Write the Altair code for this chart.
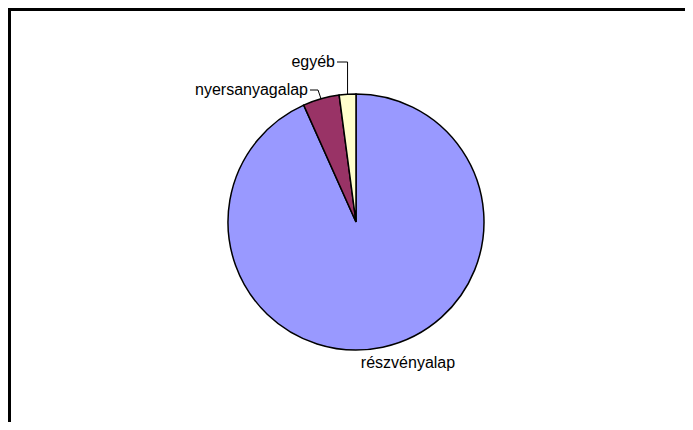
import math
import altair as alt
import pandas as pd

categories = ["részvényalap", "nyersanyagalap", "egyéb"]
values = [93.3, 4.6, 2.1]
colors = ["#9999FF", "#993366", "#FFFFCC"]

W, H = 677, 414
CX, CY, R = 348, 214, 128

df = pd.DataFrame({"cat": categories, "val": values, "ord": [0, 1, 2]})

pie = alt.Chart(df).mark_arc(radius=R, stroke="black", strokeWidth=1.5).encode(
    theta=alt.Theta("val:Q", stack=True),
    color=alt.Color("cat:N", scale=alt.Scale(domain=categories, range=colors), legend=None),
    order=alt.Order("ord:Q"),
    x=alt.value(CX),
    y=alt.value(CY),
)

# slice mid-angles from the data
total = sum(values)
cum = 0
edge = {}
for c, v in zip(categories, values):
    mid = (cum + v / 2) / total * 2 * math.pi
    edge[c] = (CX + R * math.sin(mid), CY - R * math.cos(mid))
    cum += v

# label layout
label_rows = [
    {"cat": "részvényalap", "x": 400, "y": 355, "align": "center"},
    {"cat": "nyersanyagalap", "x": 300, "y": 82, "align": "right"},
    {"cat": "egyéb", "x": 327, "y": 54, "align": "right"},
]
ldf = pd.DataFrame(label_rows)

def text_layer(d, align):
    return alt.Chart(d).mark_text(
        align=align, baseline="middle", font="Liberation Sans", fontSize=16, color="black"
    ).encode(
        x=alt.X("x:Q", scale=None),
        y=alt.Y("y:Q", scale=None),
        text="cat:N",
    )

texts = [text_layer(ldf[ldf["align"] == a], a) for a in ["center", "right"]]

# leader lines
lines = []
ex, ey = edge["nyersanyagalap"]
lines += [
    {"cat": "n", "o": 0, "x": 302, "y": 82},
    {"cat": "n", "o": 1, "x": 310, "y": 82},
    {"cat": "n", "o": 2, "x": ex, "y": ey},
]
ex, ey = edge["egyéb"]
lines += [
    {"cat": "e", "o": 0, "x": 329, "y": 54},
    {"cat": "e", "o": 1, "x": ex, "y": 54},
    {"cat": "e", "o": 2, "x": ex, "y": ey},
]
line_df = pd.DataFrame(lines)
leaders = alt.Chart(line_df).mark_line(color="black", strokeWidth=1).encode(
    x=alt.X("x:Q", scale=None),
    y=alt.Y("y:Q", scale=None),
    detail="cat:N",
    order="o:Q",
)

frame_left = alt.Chart(df).mark_rule(color="black", strokeWidth=4).encode(
    x=alt.value(1), y=alt.value(0), y2=alt.value(H)
)
frame_top = alt.Chart(df).mark_rule(color="black", strokeWidth=4).encode(
    y=alt.value(1), x=alt.value(0), x2=alt.value(W)
)

chart = alt.layer(pie, leaders, *texts, frame_left, frame_top).properties(
    width=W, height=H, padding=0, autosize=alt.AutoSizeParams(type="none")
).configure_view(stroke=None).configure(background="white")

chart.save("out.html", embed_options={"renderer": "svg", "actions": False})
